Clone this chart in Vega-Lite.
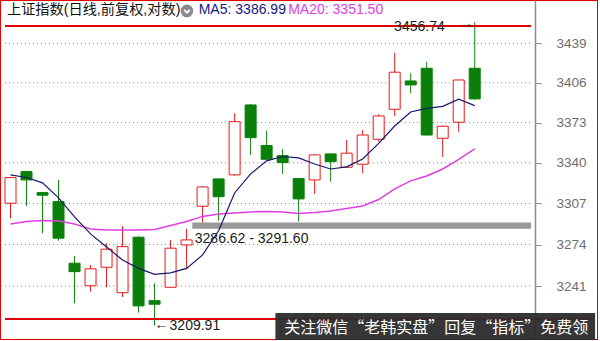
{
  "$schema": "https://vega.github.io/schema/vega-lite/v6.json",
  "width": 598,
  "height": 340,
  "padding": 0,
  "autosize": "none",
  "background": "white",
  "config": {
    "view": {"stroke": "#e00000", "strokeWidth": 2},
    "font": "Liberation Sans"
  },
  "datasets": {
    "candles": [
      {"day": 0, "open": 3307.2, "high": 3328.5, "low": 3295.1, "close": 3328.0, "ma5": 3330.2, "ma20": 3290.5},
      {"day": 1, "open": 3332.9, "high": 3333.5, "low": 3305.0, "close": 3326.1, "ma5": 3328.1, "ma20": 3292.5},
      {"day": 2, "open": 3315.8, "high": 3316.0, "low": 3283.1, "close": 3313.7, "ma5": 3323.7, "ma20": 3293.3},
      {"day": 3, "open": 3308.5, "high": 3326.1, "low": 3277.1, "close": 3279.1, "ma5": 3311.5, "ma20": 3292.9},
      {"day": 4, "open": 3259.1, "high": 3264.9, "low": 3227.4, "close": 3252.4, "ma5": 3296.2, "ma20": 3290.5},
      {"day": 5, "open": 3241.2, "high": 3257.7, "low": 3236.5, "close": 3254.6, "ma5": 3282.5, "ma20": 3286.5},
      {"day": 6, "open": 3255.9, "high": 3275.0, "low": 3240.0, "close": 3270.3, "ma5": 3272.1, "ma20": 3285.7},
      {"day": 7, "open": 3235.7, "high": 3288.7, "low": 3232.3, "close": 3272.3, "ma5": 3261.7, "ma20": 3285.7},
      {"day": 8, "open": 3279.9, "high": 3280.5, "low": 3220.0, "close": 3225.3, "ma5": 3255.0, "ma20": 3285.7},
      {"day": 9, "open": 3229.4, "high": 3243.2, "low": 3209.91, "close": 3226.6, "ma5": 3250.2, "ma20": 3286.1},
      {"day": 10, "open": 3240.0, "high": 3277.7, "low": 3239.5, "close": 3271.1, "ma5": 3251.4, "ma20": 3289.3},
      {"day": 11, "open": 3273.7, "high": 3286.62, "low": 3254.3, "close": 3277.7, "ma5": 3255.0, "ma20": 3292.5},
      {"day": 12, "open": 3304.8, "high": 3321.0, "low": 3291.6, "close": 3320.4, "ma5": 3265.7, "ma20": 3296.6},
      {"day": 13, "open": 3326.9, "high": 3327.5, "low": 3293.0, "close": 3312.5, "ma5": 3285.0, "ma20": 3298.6},
      {"day": 14, "open": 3330.2, "high": 3380.7, "low": 3329.5, "close": 3373.8, "ma5": 3315.5, "ma20": 3299.4},
      {"day": 15, "open": 3387.6, "high": 3388.2, "low": 3346.5, "close": 3360.6, "ma5": 3331.0, "ma20": 3300.2},
      {"day": 16, "open": 3354.2, "high": 3366.4, "low": 3342.5, "close": 3342.9, "ma5": 3341.6, "ma20": 3300.6},
      {"day": 17, "open": 3345.9, "high": 3351.1, "low": 3331.0, "close": 3340.2, "ma5": 3345.2, "ma20": 3300.2},
      {"day": 18, "open": 3327.2, "high": 3327.8, "low": 3292.4, "close": 3310.7, "ma5": 3344.0, "ma20": 3299.0},
      {"day": 19, "open": 3326.1, "high": 3347.0, "low": 3314.7, "close": 3346.5, "ma5": 3339.1, "ma20": 3299.8},
      {"day": 20, "open": 3347.3, "high": 3347.8, "low": 3324.7, "close": 3341.0, "ma5": 3335.0, "ma20": 3301.0},
      {"day": 21, "open": 3336.4, "high": 3358.7, "low": 3336.0, "close": 3347.9, "ma5": 3336.7, "ma20": 3303.0},
      {"day": 22, "open": 3338.9, "high": 3366.9, "low": 3331.5, "close": 3362.8, "ma5": 3343.2, "ma20": 3305.0},
      {"day": 23, "open": 3359.3, "high": 3379.9, "low": 3357.4, "close": 3378.5, "ma5": 3355.9, "ma20": 3310.2},
      {"day": 24, "open": 3384.0, "high": 3431.1, "low": 3378.5, "close": 3414.8, "ma5": 3370.2, "ma20": 3318.8},
      {"day": 25, "open": 3407.5, "high": 3413.9, "low": 3397.3, "close": 3404.2, "ma5": 3381.8, "ma20": 3325.3},
      {"day": 26, "open": 3418.1, "high": 3423.6, "low": 3362.3, "close": 3362.8, "ma5": 3384.7, "ma20": 3329.3},
      {"day": 27, "open": 3360.1, "high": 3370.5, "low": 3344.8, "close": 3370.0, "ma5": 3386.4, "ma20": 3335.0},
      {"day": 28, "open": 3373.3, "high": 3408.8, "low": 3365.5, "close": 3408.3, "ma5": 3392.3, "ma20": 3342.8},
      {"day": 29, "open": 3418.1, "high": 3456.74, "low": 3392.0, "close": 3392.6, "ma5": 3386.99, "ma20": 3351.5}
    ],
    "levels": [
      {"level": 3241}, {"level": 3274}, {"level": 3307}, {"level": 3340},
      {"level": 3373}, {"level": 3406}, {"level": 3439}
    ],
    "gap": [
      {"lo": 3286.62, "hi": 3291.6, "label": "3286.62 - 3291.60"}
    ]
  },
  "layer": [
    {
      "data": {"name": "levels"},
      "mark": {"type": "rule", "color": "#8c8c8c", "strokeDash": [1, 3], "strokeWidth": 1},
      "encoding": {
        "x": {"datum": -0.344, "type": "quantitative", "scale": {"domain": [-0.344, 36.388], "nice": false, "zero": false}, "axis": null},
        "x2": {"datum": 32.52},
        "y": {
          "field": "level", "type": "quantitative",
          "scale": {"type": "log", "domain": [3198.53, 3475.57], "nice": false},
          "axis": {
            "orient": "right", "offset": -63, "title": null, "grid": false,
            "values": [3241, 3274, 3307, 3340, 3373, 3406, 3439], "format": "d",
            "domainColor": "#8c8c8c", "domainWidth": 1.5,
            "tickColor": "#8c8c8c", "tickSize": 6, "tickWidth": 1,
            "labelPadding": 15, "labelColor": "#6e6e6e", "labelFontSize": 13.5,
            "labelFont": "Liberation Sans", "labelFlush": false, "labelOverlap": false
          }
        }
      }
    },
    {
      "data": {"name": "gap"},
      "mark": {"type": "rect", "color": "#999999"},
      "encoding": {
        "x": {"datum": 11.358, "type": "quantitative", "scale": {"domain": [-0.344, 36.388], "nice": false, "zero": false}, "axis": null},
        "x2": {"datum": 32.52},
        "y": {"field": "lo", "type": "quantitative", "scale": {"type": "log", "domain": [3198.53, 3475.57], "nice": false}},
        "y2": {"field": "hi"}
      }
    },
    {
      "data": {"name": "candles"},
      "mark": {"type": "rule", "strokeWidth": 1},
      "encoding": {
        "x": {"field": "day", "type": "quantitative", "scale": {"domain": [-0.344, 36.388], "nice": false, "zero": false}, "axis": null},
        "y": {"field": "low", "type": "quantitative", "scale": {"type": "log", "domain": [3198.53, 3475.57], "nice": false}},
        "y2": {"field": "high"},
        "color": {"condition": {"test": "datum.close >= datum.open", "value": "#e31a1a"}, "value": "#0a800a"}
      }
    },
    {
      "data": {"name": "candles"},
      "mark": {"type": "bar", "size": 11, "strokeWidth": 1},
      "encoding": {
        "x": {"field": "day", "type": "quantitative", "scale": {"domain": [-0.344, 36.388], "nice": false, "zero": false}, "axis": null},
        "y": {"field": "open", "type": "quantitative", "scale": {"type": "log", "domain": [3198.53, 3475.57], "nice": false}},
        "y2": {"field": "close"},
        "fill": {"condition": {"test": "datum.close >= datum.open", "value": "#ffffff"}, "value": "#0a800a"},
        "stroke": {"condition": {"test": "datum.close >= datum.open", "value": "#e31a1a"}, "value": "#0a800a"}
      }
    },
    {
      "data": {"name": "candles"},
      "mark": {"type": "line", "color": "#e03ee0", "strokeWidth": 1.5},
      "encoding": {
        "x": {"field": "day", "type": "quantitative", "scale": {"domain": [-0.344, 36.388], "nice": false, "zero": false}, "axis": null},
        "y": {"field": "ma20", "type": "quantitative", "scale": {"type": "log", "domain": [3198.53, 3475.57], "nice": false}}
      }
    },
    {
      "data": {"name": "candles"},
      "mark": {"type": "line", "color": "#161670", "strokeWidth": 1.2},
      "encoding": {
        "x": {"field": "day", "type": "quantitative", "scale": {"domain": [-0.344, 36.388], "nice": false, "zero": false}, "axis": null},
        "y": {"field": "ma5", "type": "quantitative", "scale": {"type": "log", "domain": [3198.53, 3475.57], "nice": false}}
      }
    },
    {
      "data": {"values": [{}]},
      "mark": {"type": "rule", "color": "#e00000", "strokeWidth": 2},
      "encoding": {
        "x": {"datum": -0.344, "type": "quantitative", "scale": {"domain": [-0.344, 36.388], "nice": false, "zero": false}, "axis": null},
        "x2": {"datum": 32.52},
        "y": {"datum": 3453.56, "type": "quantitative", "scale": {"type": "log", "domain": [3198.53, 3475.57], "nice": false}}
      }
    },
    {
      "data": {"values": [{}]},
      "mark": {"type": "rule", "color": "#e00000", "strokeWidth": 2},
      "encoding": {
        "x": {"datum": -0.344, "type": "quantitative", "scale": {"domain": [-0.344, 36.388], "nice": false, "zero": false}, "axis": null},
        "x2": {"datum": 36.388},
        "y": {"datum": 3215.0, "type": "quantitative", "scale": {"type": "log", "domain": [3198.53, 3475.57], "nice": false}}
      }
    },
    {
      "data": {"name": "gap"},
      "mark": {"type": "text", "align": "left", "baseline": "top", "dy": 3, "fontSize": 14, "color": "#1a1a1a"},
      "encoding": {
        "x": {"datum": 11.511, "type": "quantitative", "scale": {"domain": [-0.344, 36.388], "nice": false, "zero": false}, "axis": null},
        "y": {"field": "lo", "type": "quantitative", "scale": {"type": "log", "domain": [3198.53, 3475.57], "nice": false}},
        "text": {"field": "label"}
      }
    },
    {
      "data": {"name": "candles"},
      "transform": [{"filter": "datum.day == 29"}],
      "layer": [
        {
          "mark": {"type": "text", "align": "right", "baseline": "middle", "dx": -30, "dy": 5, "fontSize": 14, "color": "#1a1a1a"},
          "encoding": {"text": {"field": "high", "type": "quantitative", "format": ".2f"}}
        },
        {
          "mark": {"type": "text", "align": "right", "baseline": "middle", "dx": -1, "dy": 1, "fontSize": 15, "color": "#1a1a1a", "text": "→"},
          "encoding": {}
        }
      ],
      "encoding": {
        "x": {"field": "day", "type": "quantitative", "scale": {"domain": [-0.344, 36.388], "nice": false, "zero": false}, "axis": null},
        "y": {"field": "high", "type": "quantitative", "scale": {"type": "log", "domain": [3198.53, 3475.57], "nice": false}}
      }
    },
    {
      "data": {"name": "candles"},
      "transform": [{"filter": "datum.day == 9"}],
      "layer": [
        {
          "mark": {"type": "text", "align": "left", "baseline": "middle", "dx": 0, "dy": 0, "fontSize": 14, "color": "#1a1a1a", "text": "←"},
          "encoding": {}
        },
        {
          "mark": {"type": "text", "align": "left", "baseline": "middle", "dx": 15, "dy": 1, "fontSize": 14, "color": "#1a1a1a"},
          "encoding": {"text": {"field": "low", "type": "quantitative", "format": ".2f"}}
        }
      ],
      "encoding": {
        "x": {"field": "day", "type": "quantitative", "scale": {"domain": [-0.344, 36.388], "nice": false, "zero": false}, "axis": null},
        "y": {"field": "low", "type": "quantitative", "scale": {"type": "log", "domain": [3198.53, 3475.57], "nice": false}}
      }
    },
    {
      "data": {"values": [{}]},
      "mark": {"type": "text", "align": "left", "baseline": "middle", "font": "Liberation Sans, Noto Sans CJK SC", "fontSize": 14.2, "color": "#111111", "text": "上证指数(日线,前复权,对数)"},
      "encoding": {
        "x": {"datum": -0.221, "type": "quantitative", "scale": {"domain": [-0.344, 36.388], "nice": false, "zero": false}, "axis": null},
        "y": {"datum": 3466.7, "type": "quantitative", "scale": {"type": "log", "domain": [3198.53, 3475.57], "nice": false}}
      }
    },
    {
      "data": {"values": [{}]},
      "layer": [
        {"mark": {"type": "point", "shape": "circle", "filled": true, "size": 160, "color": "#8a8a8a", "opacity": 1}, "encoding": {}},
        {"mark": {"type": "point", "shape": "M-0.45,-0.18L0,0.27L0.45,-0.18", "filled": false, "size": 160, "stroke": "#ffffff", "strokeWidth": 1.8, "opacity": 1}, "encoding": {}}
      ],
      "encoding": {
        "x": {"datum": 11.02, "type": "quantitative", "scale": {"domain": [-0.344, 36.388], "nice": false, "zero": false}, "axis": null},
        "y": {"datum": 3466.3, "type": "quantitative", "scale": {"type": "log", "domain": [3198.53, 3475.57], "nice": false}}
      }
    },
    {
      "data": {"name": "candles"},
      "transform": [{"filter": "datum.day == 29"}],
      "layer": [
        {
          "mark": {"type": "text", "align": "left", "baseline": "middle", "fontSize": 14, "color": "#161680", "text": "MA5:"},
          "encoding": {"x": {"datum": 11.757, "type": "quantitative", "scale": {"domain": [-0.344, 36.388], "nice": false, "zero": false}, "axis": null}}
        },
        {
          "mark": {"type": "text", "align": "left", "baseline": "middle", "dx": 36.6, "fontSize": 14, "color": "#161680"},
          "encoding": {
            "x": {"datum": 11.757, "type": "quantitative", "scale": {"domain": [-0.344, 36.388], "nice": false, "zero": false}, "axis": null},
            "text": {"field": "ma5", "type": "quantitative", "format": ".2f"}
          }
        },
        {
          "mark": {"type": "text", "align": "left", "baseline": "middle", "fontSize": 14, "color": "#e03ee0", "text": "MA20:"},
          "encoding": {"x": {"datum": 17.346, "type": "quantitative", "scale": {"domain": [-0.344, 36.388], "nice": false, "zero": false}, "axis": null}}
        },
        {
          "mark": {"type": "text", "align": "left", "baseline": "middle", "dx": 44.4, "fontSize": 14, "color": "#e03ee0"},
          "encoding": {
            "x": {"datum": 17.346, "type": "quantitative", "scale": {"domain": [-0.344, 36.388], "nice": false, "zero": false}, "axis": null},
            "text": {"field": "ma20", "type": "quantitative", "format": ".2f"}
          }
        }
      ],
      "encoding": {
        "y": {"datum": 3466.7, "type": "quantitative", "scale": {"type": "log", "domain": [3198.53, 3475.57], "nice": false}}
      }
    },
    {
      "data": {"values": [{}]},
      "mark": {"type": "rect", "color": "#2b2b2b", "opacity": 0.95},
      "encoding": {
        "x": {"datum": 16.548, "type": "quantitative", "scale": {"domain": [-0.344, 36.388], "nice": false, "zero": false}, "axis": null},
        "x2": {"datum": 36.52},
        "y": {"datum": 3219.71, "type": "quantitative", "scale": {"type": "log", "domain": [3198.53, 3475.57], "nice": false}},
        "y2": {"datum": 3197.0}
      }
    },
    {
      "data": {"values": [{}]},
      "mark": {"type": "text", "align": "left", "baseline": "middle", "font": "Noto Sans CJK SC", "fontSize": 16, "color": "#ffffff", "text": "关注微信“老韩实盘”回复“指标”免费领"},
      "encoding": {
        "x": {"datum": 17.1, "type": "quantitative", "scale": {"domain": [-0.344, 36.388], "nice": false, "zero": false}, "axis": null},
        "y": {"datum": 3207.9, "type": "quantitative", "scale": {"type": "log", "domain": [3198.53, 3475.57], "nice": false}}
      }
    }
  ]
}
